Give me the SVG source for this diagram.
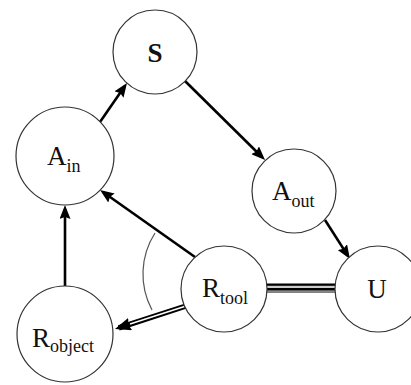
<svg xmlns="http://www.w3.org/2000/svg" width="411" height="385" viewBox="0 0 411 385">
<style>
.node{fill:#fff;stroke:#333;stroke-width:1.2}
.lbl{font-family:"Liberation Serif","Times New Roman",serif;font-size:27px;fill:#111}
.sub{font-size:18px}
.arr{stroke:#000;stroke-width:2.6;fill:none;marker-end:url(#ah)}
</style>
<defs>
<marker id="ah" viewBox="0 0 14 11" refX="10" refY="5.5" markerWidth="14" markerHeight="11" markerUnits="userSpaceOnUse" orient="auto">
<path d="M0,0 L14,5.5 L0,11 L2,5.5 z" fill="#000"/>
</marker>
<marker id="ah2" viewBox="0 0 16 13" refX="12" refY="6.5" markerWidth="16" markerHeight="13" markerUnits="userSpaceOnUse" orient="auto">
<path d="M0,0 L16,6.5 L0,13 L2,6.5 z" fill="#000"/>
</marker>
</defs>
<rect width="411" height="385" fill="#fff"/>
<g id="connectors">
<line class="arr" x1="100" y1="122" x2="124.7" y2="86.3"/>
<line class="arr" x1="185" y1="81" x2="262.2" y2="157.2"/>
<line class="arr" x1="325" y1="220" x2="347.8" y2="255.6"/>
<line class="arr" x1="65" y1="288" x2="65" y2="209"/>
<line class="arr" x1="195" y1="257" x2="103.3" y2="192.3"/>
<line x1="186" y1="306" x2="118.8" y2="327.8" stroke="#000" stroke-width="5.5" marker-end="url(#ah2)"/>
<line x1="186" y1="306" x2="130" y2="324.1" stroke="#fff" stroke-width="1.6"/>
<rect x="267" y="283.5" width="68" height="9" fill="#000"/>
<rect x="267" y="285.8" width="68" height="2.2" fill="#ccc"/>
<rect x="267" y="290.3" width="68" height="1.8" fill="#888"/>
<path d="M155,233 A76,76 0 0 0 152,310" fill="none" stroke="#555" stroke-width="1.2"/>
</g>
<g id="S"><circle class="node" cx="155" cy="52" r="42"/><text class="lbl" x="155" y="62" text-anchor="middle" font-weight="bold">S</text></g>
<g id="A_in"><circle class="node" cx="65" cy="156" r="49"/><text class="lbl" x="47" y="165">A<tspan class="sub" dy="7">in</tspan></text></g>
<g id="A_out"><circle class="node" cx="294" cy="191" r="42"/><text class="lbl" x="272" y="200">A<tspan class="sub" dy="7">out</tspan></text></g>
<g id="U"><circle class="node" cx="378" cy="289" r="43"/><text class="lbl" x="377" y="298" text-anchor="middle">U</text></g>
<g id="R_tool"><circle class="node" cx="224" cy="289" r="43"/><text class="lbl" x="202" y="297">R<tspan class="sub" dy="7">tool</tspan></text></g>
<g id="R_object"><circle class="node" cx="65" cy="334" r="48"/><text class="lbl" x="32" y="347">R<tspan class="sub" dy="5">object</tspan></text></g>
</svg>
